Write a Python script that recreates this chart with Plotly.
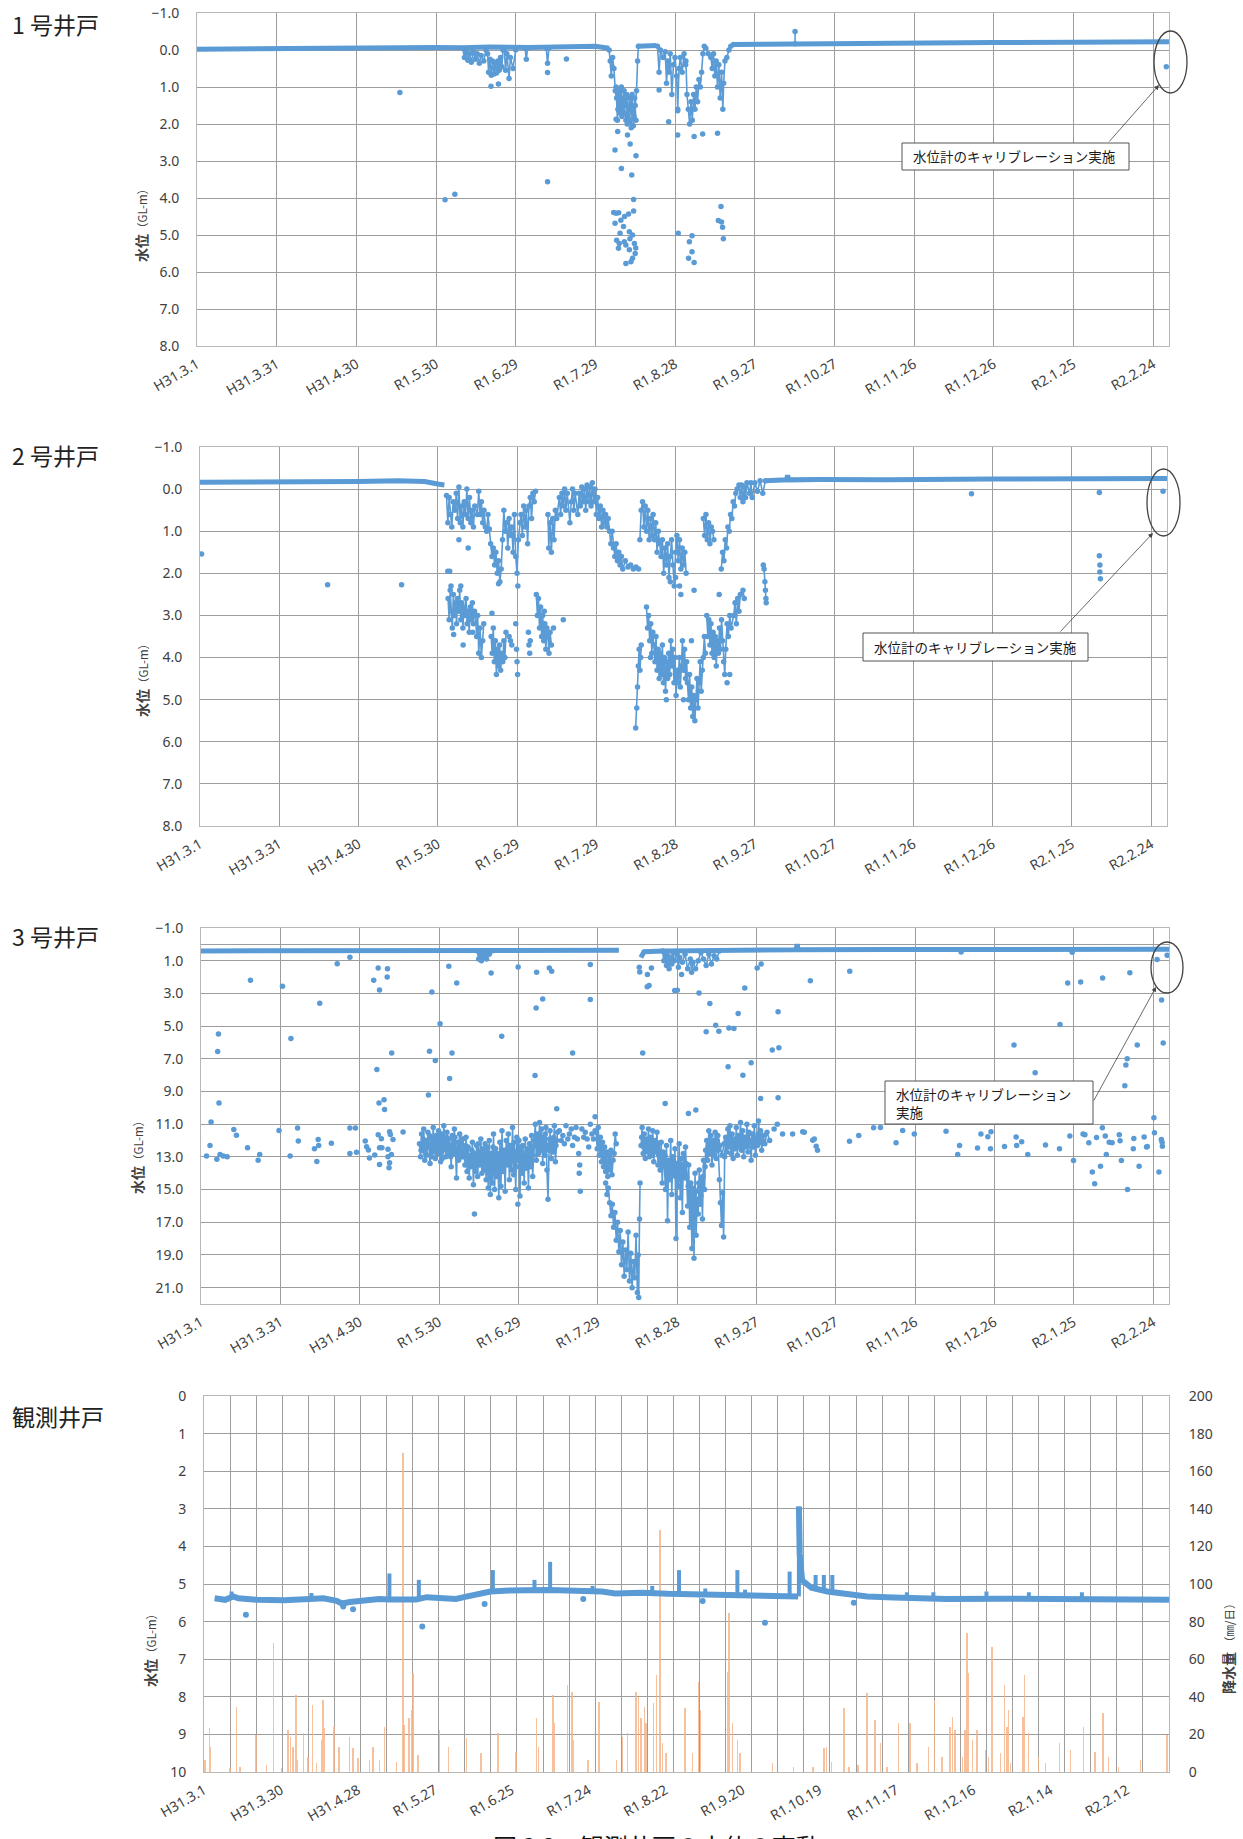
import pandas as pd
import plotly.graph_objects as go

W, H = 1243, 1839
START = pd.Timestamp("2019-03-01")

# ---------------- tick labels ----------------
ticks_wells = ["H31.3.1", "H31.3.31", "H31.4.30", "R1.5.30", "R1.6.29", "R1.7.29", "R1.8.28",
               "R1.9.27", "R1.10.27", "R1.11.26", "R1.12.26", "R2.1.25", "R2.2.24"]
ticks_obs = ["H31.3.1", "H31.3.30", "H31.4.28", "R1.5.27", "R1.6.25", "R1.7.24", "R1.8.22",
             "R1.9.20", "R1.10.19", "R1.11.17", "R1.12.16", "R2.1.14", "R2.2.12"]
panel_titles = ["1 号井戸", "2 号井戸", "3 号井戸", "観測井戸"]
callout_text = "水位計のキャリブレーション実施"
caption = "図 3.3　観測井戸の水位の変動"

# ---------------- data: (day since 2019-03-01, water level GL-m) ----------------
# 1号井戸
w1_base_a = [(0, -0.02), (20, -0.03), (40, -0.05), (55, -0.08), (62, -0.05), (75, -0.06), (90, -0.07),
             (100, -0.06), (110, -0.08), (125, -0.07), (140, -0.1), (150, -0.1), (155.2, -0.05)]
w1_base_b = [(166, -0.1), (173, -0.12)]
w1_base_c = [(202, -0.15), (215, -0.16), (225, -0.17), (240, -0.18), (270, -0.19), (300, -0.2),
             (330, -0.21), (350, -0.22), (366, -0.22)]
w1_dip_a = [(100, -0.05), (100.7, 0.2), (101.3, 0.05), (102, 0.28), (102.6, 0.1), (103.3, 0.33), (104, 0.05),
            (104.8, 0.25), (105.5, 0.1), (106.3, 0.36), (107, 0.15), (108, 0.3), (108.8, 0.0)]
w1_dip_b = [(109.4, 0.1), (109.8, 0.6), (110.3, 0.25), (110.8, 0.68), (111.3, 0.3), (111.8, 0.65), (112.3, 0.35),
            (112.8, 0.62), (113.3, 0.3), (113.8, 0.55), (114.3, 0.2), (114.8, 0.45), (115.2, 0.0)]
w1_dip_c = [(115.7, 0.0), (116.2, 0.55), (116.7, 0.1), (117.5, 0.77), (118, 0.2), (119, 0.5), (120, 0.0)]
w1_dip_d = [(123.5, -0.05), (124, 0.25), (124.5, -0.05)]
w1_dip_e = [(131.5, -0.05), (132, 0.36), (132.5, -0.05)]
w1_aug_a = [(155.2, 0.0), (155.6, 0.3), (156, 0.7), (156.5, 0.2), (157, 0.5), (157.5, 1.1), (158, 1.3), (158.5, 1.6),
            (159, 1.2), (159.5, 1.5), (160, 1.8), (160.5, 1.4), (161, 1.7), (161.5, 1.9), (162, 2.0), (162.5, 1.6),
            (163, 1.9), (163.5, 2.1), (164, 1.7), (164.5, 1.8), (165, 1.5), (165.5, 1.1), (165.9, 0.3), (166.2, -0.1)]
w1_aug_b = [(157.8, 1.0), (158.3, 1.9), (158.8, 1.1), (159.3, 1.7), (159.8, 1.0), (160.3, 1.6), (160.8, 1.1),
            (161.3, 1.5), (161.8, 1.2), (162.3, 1.8), (162.8, 1.3), (163.3, 1.6), (163.8, 1.2), (164.3, 2.05),
            (164.8, 1.3), (165.3, 1.9)]
w1_sep_a = [(173.4, -0.1), (174, 0.6), (174.5, 0.0), (175.5, 0.2), (176.3, 0.05), (176.8, 0.9), (177.2, 0.3),
            (177.7, 0.6), (178.2, 0.1), (178.8, 1.2), (179.4, 0.4), (180, 0.2), (180.6, 0.7), (181, 1.6),
            (181.5, 0.5), (182, 0.2), (182.7, 0.6), (183.4, 0.1), (184, 0.4)]
w1_sep_b = [(184.1, 0.3), (184.5, 1.2), (185, 1.6), (185.5, 2.0), (186, 1.4), (186.5, 1.9), (187, 1.2), (187.5, 1.6),
            (188, 1.0), (188.5, 1.4), (189, 0.8), (189.5, 1.0), (190, 0.6), (190.5, 0.1), (191, -0.1)]
w1_sep_c = [(191.6, -0.05), (192.5, 0.1), (193.5, 0.2), (194, 0.5), (194.5, 0.1), (195, 0.7), (195.5, 0.3),
            (196, 1.0), (196.5, 0.4), (197, 1.3), (197.5, 0.6), (198, 1.6), (198.3, 0.9), (198.8, 0.3),
            (199.5, 0.2), (200.3, 0.0), (201, -0.1), (202, -0.15)]
w1_spike = [(225.2, -0.17), (225.2, -0.5)]
w1_points = [(76.4, 1.15), (93.4, 4.05), (97.1, 3.9), (110.7, 0.98), (113.5, 0.92), (132, 0.61), (132, 3.56),
             (139.1, 0.24), (157.8, 1.87), (158.4, 2.2), (157.4, 2.7), (159.8, 3.2), (162.1, 2.3), (163.1, 2.54),
             (163.7, 3.38), (165.3, 2.86), (164.4, 4.04), (164.4, 4.35), (156.9, 4.39), (158.8, 4.4), (159.6, 4.6),
             (157.4, 4.68), (160.6, 4.77), (162.8, 4.91), (164, 5.0), (158, 5.14), (159, 5.23), (161.5, 5.27),
             (164.7, 5.23), (158.7, 5.36), (162.8, 5.4), (165, 5.5), (164, 5.63), (161.5, 5.77), (163.4, 5.72),
             (162.5, 4.43), (160.9, 5.18), (157.8, 4.41), (159.3, 4.95), (163.0, 5.1), (161, 4.5), (165.2, 5.35),
             (174, 1.08), (177.6, 1.94), (181, 1.64), (181, 2.3), (181.2, 4.95), (185.4, 5.18), (186.4, 5.02),
             (185.1, 5.63), (187.2, 5.74), (186.4, 5.45), (187.2, 2.34), (190.4, 2.27), (196, 2.25), (197.3, 4.23),
             (196.3, 4.61), (197.5, 4.65), (197.9, 4.79), (198.2, 5.1), (365, 0.45)]

# 2号井戸
w2_base_a = [(0, -0.16), (30, -0.16), (60, -0.18), (75, -0.2), (85, -0.18), (90, -0.12), (92.5, -0.1)]
w2_base_b = [(214, -0.2), (222, -0.22), (222.4, -0.33), (222.8, -0.22), (234.5, -0.23), (260, -0.22),
             (300, -0.24), (340, -0.25), (366, -0.25)]
w2_up_a = [(93.3, 0.15), (93.8, 0.8), (94.3, 0.2), (94.8, 0.6), (95.3, 0.9), (95.8, 0.3), (96.5, 0.5), (97, 0.1),
           (97.5, 0.7), (98, -0.05), (98.5, 0.8), (99, 0.4), (99.5, 0.9), (100, 0.3), (100.5, 0.6), (101, 0.0),
           (101.5, 0.7), (102, 0.2), (102.5, 0.8), (103, 0.5), (103.5, 0.9), (104, 0.4), (105, 0.6), (105.5, 0.05),
           (106, 0.6), (106.5, 0.3), (107, 0.8), (107.5, 0.5), (108, 0.9), (108.5, 1.0), (109, 0.6), (109.5, 0.95),
           (110, 1.3), (110.5, 1.6), (111, 1.4), (111.5, 1.8), (112, 1.5), (112.5, 2.0), (113, 1.7), (113.5, 2.2),
           (114, 1.9), (114.5, 1.2), (115, 0.5), (115.5, 1.0), (116, 0.8), (116.5, 1.4), (117, 0.7), (117.5, 1.1),
           (118, 0.9), (118.5, 1.5), (119, 0.6), (119.5, 1.6), (120, 2.0), (120.5, 1.2), (121, 0.8), (121.5, 0.6),
           (122, 1.1), (122.5, 0.4), (123, 0.9), (123.5, 0.5), (124, 1.3), (124.5, 0.4), (125, 0.2), (125.5, 0.7),
           (126, 0.1), (126.5, 0.3), (127, 0.05)]
w2_up_b = [(131.7, 0.6), (132, 1.4), (132.5, 0.8), (133, 1.5), (133.5, 0.7), (134, 1.2), (134.5, 0.5), (135, 0.7),
           (136, 0.2), (136.5, 0.6), (137, 0.1), (137.5, 0.4), (138, 0.0), (138.5, 0.5), (139, 0.1), (140, 0.8),
           (140.5, 0.3), (141, 0.0), (141.5, 0.5), (142, 0.1), (143, 0.6), (143.5, 0.1), (144, 0.4), (144.5, -0.05),
           (145, 0.3), (145.5, 0.0), (146, 0.5), (146.5, -0.1), (147, 0.3), (147.5, -0.05), (148, 0.4),
           (148.5, -0.15), (149, 0.3), (149.5, 0.0), (150, 0.6), (150.5, 0.2), (151, 0.7), (151.5, 0.4), (152, 0.9),
           (152.5, 0.5), (153, 0.8), (153.5, 0.6), (154, 0.9), (154.5, 0.7), (155, 1.0), (155.5, 1.3), (156, 1.0),
           (156.5, 1.4), (157, 1.6), (157.5, 1.3), (158, 1.7), (158.5, 1.5), (159, 1.8), (159.5, 1.6), (160, 1.9),
           (161, 1.7), (162, 1.85), (163, 1.8), (164, 1.9), (165, 1.85), (166, 1.9)]
w2_up_c = [(166.5, 1.2), (167, 0.5), (167.5, 0.3), (168, 0.9), (168.5, 0.4), (169, 1.0), (169.5, 0.5), (170, 1.2),
           (170.5, 0.7), (171, 1.1), (171.5, 0.6), (172, 1.2), (172.5, 0.8), (173, 1.5), (173.5, 1.0), (174, 1.3),
           (174.5, 1.6), (175, 1.2), (175.5, 2.0), (176, 1.4), (176.5, 1.8), (177, 1.3), (177.5, 2.1), (178, 1.6),
           (178.5, 1.2), (179, 1.8), (179.5, 2.3), (180, 1.5), (180.5, 1.1), (181, 1.7), (181.5, 1.2), (182, 1.9),
           (182.5, 1.4), (183, 1.8), (183.5, 1.5), (184, 2.0)]
w2_up_d = [(190.5, 0.7), (191, 1.1), (191.5, 0.6), (192, 1.2), (192.5, 0.8), (193, 1.3), (193.5, 0.9), (194, 1.0),
           (194.5, 1.2)]
w2_up_e = [(197.3, 1.9), (197.8, 1.5), (198.3, 1.7), (198.8, 1.2), (199.3, 1.4), (199.8, 0.9), (200.3, 1.0),
           (200.8, 0.6), (201.3, 0.7), (201.8, 0.3), (202.3, 0.4), (202.8, 0.1), (203.3, 0.0), (204, -0.1),
           (204.5, 0.2), (205, -0.1), (205.5, 0.3), (206, -0.05), (206.5, 0.2), (207, -0.15), (208, 0.1),
           (208.5, -0.15), (209, 0.2), (210, -0.15), (211, 0.05), (212, -0.2), (213, 0.1), (214, -0.2)]
w2_low_a = [(93.9, 2.6), (94.3, 3.1), (94.7, 2.4), (95.1, 2.9), (95.5, 3.3), (95.9, 2.5), (96.3, 3.0), (96.7, 2.7),
            (97.1, 3.2), (97.5, 2.6), (97.9, 2.9), (98.3, 2.4), (98.7, 3.1), (99.1, 2.7), (99.5, 3.3), (99.9, 2.8),
            (100.3, 3.0), (100.7, 2.6), (101.1, 3.2), (101.5, 2.9), (101.9, 3.4), (102.3, 2.8), (102.7, 3.1),
            (103.1, 2.7), (103.5, 3.2), (103.9, 2.9), (104.3, 3.0), (104.7, 3.5), (105.1, 3.0), (105.5, 3.9),
            (106, 3.3), (106.5, 4.0), (107, 3.6), (107.4, 3.2)]
w2_low_b = [(110.2, 3.5), (110.6, 3.9), (111, 3.3), (111.4, 4.1), (111.8, 3.6), (112.2, 4.4), (112.6, 3.8),
            (113, 4.2), (113.4, 3.7), (113.8, 4.3), (114.2, 3.9), (114.6, 4.1), (115, 3.6), (115.4, 4.0),
            (115.8, 3.4)]
w2_low_c = [(127.3, 2.5), (127.7, 3.0), (128.1, 2.6), (128.5, 3.3), (128.9, 2.8), (129.3, 3.5), (129.7, 3.0),
            (130.1, 3.6), (130.5, 3.2), (130.9, 3.8), (131.3, 3.3), (131.7, 3.5), (132.1, 3.9), (132.5, 3.4),
            (133, 3.7)]
w2_low_d = [(164.9, 5.67), (165.3, 5.2), (165.6, 4.7), (165.9, 4.2), (166.2, 3.8), (166.5, 4.3), (166.8, 4.0),
            (167, 3.7)]
w2_low_e = [(169, 2.8), (169.4, 3.3), (169.8, 3.0), (170.2, 3.6), (170.6, 3.2), (171, 3.9), (171.4, 3.4),
            (171.8, 3.7), (172.2, 4.1), (172.6, 3.5), (173, 4.3), (173.4, 3.8), (173.8, 4.5), (174.2, 3.9),
            (174.6, 4.4), (175, 3.7), (175.4, 4.6), (175.8, 4.0), (176.2, 4.8), (176.6, 4.1), (177, 4.5),
            (177.4, 3.9), (177.8, 4.4), (178.2, 3.6), (178.6, 4.2), (179, 3.8), (179.4, 4.6), (179.8, 4.0),
            (180.2, 4.9), (180.6, 4.3), (181, 4.6), (181.4, 4.0), (181.8, 4.7), (182.2, 4.2), (182.6, 3.6),
            (183, 4.3), (183.4, 3.8), (183.8, 4.5), (184.2, 4.1), (184.5, 4.6), (184.9, 5.0), (185.3, 4.4),
            (185.7, 5.2), (186.1, 4.7), (186.5, 5.4), (186.9, 4.9), (187.3, 5.5), (187.7, 5.0), (188.1, 4.5),
            (188.5, 5.2), (188.9, 4.6), (189.3, 4.1), (189.7, 4.8), (190.1, 4.3), (190.5, 4.0), (190.9, 3.5),
            (191.3, 3.9)]
w2_low_f = [(191.8, 3.0), (192.2, 3.5), (192.6, 3.1), (193, 3.7), (193.4, 3.2), (193.8, 3.9), (194.2, 3.4),
            (194.6, 4.0), (195, 3.5), (195.4, 4.2), (195.8, 3.6), (196.2, 3.9), (196.6, 3.3), (197, 3.8),
            (197.4, 3.1), (197.8, 3.6), (198.2, 4.1), (198.6, 4.4), (199, 3.8), (199.5, 3.2), (200, 3.5),
            (200.5, 3.0), (201, 3.3), (202, 3.0), (202.5, 2.7), (203, 3.2), (203.5, 2.6), (204, 2.9), (204.5, 2.5),
            (205.5, 2.4), (206, 2.6)]
w2_low_g = [(213.2, 1.8), (213.5, 1.9), (213.8, 2.2), (214, 2.4), (214.2, 2.6), (214.3, 2.7)]
w2_points = [(0.6, 1.54), (48.3, 2.27), (76.3, 2.27), (292, 0.11), (340.4, 0.08), (340.4, 1.58), (340.6, 1.8),
             (340.6, 1.97), (340.8, 2.13), (364.5, 0.05), (93.8, 1.95), (94.5, 1.95), (95, 2.3), (98.7, 2.3),
             (99.6, 3.7), (103.2, 3.4), (110.5, 2.95), (96, 3.45), (130.3, 2.9), (137.5, 3.1), (133.8, 3.3),
             (180, 2.1), (178, 2.2), (181.5, 2.3), (182, 2.5), (187, 2.4), (196.5, 2.5), (186, 3.6), (183, 5.0),
             (176.5, 5.0), (170.5, 4.0), (200.5, 4.4), (199.5, 4.6), (117, 3.5), (117.5, 3.6), (118, 3.7),
             (119.5, 3.2), (119.8, 3.8), (120, 4.1), (120.2, 4.4), (124.3, 3.4), (124.5, 3.7), (124.8, 3.9),
             (125, 3.6), (98, 1.2), (101.5, 1.4), (113, 2.25), (120.3, 2.3)]

# 3号井戸
w3_base_a = [(0, 0.4), (60, 0.4), (104, 0.38), (130, 0.37), (158, 0.36)]
w3_base_b = [(166.3, 0.8), (167.5, 0.45), (175, 0.4), (200, 0.35), (225, 0.33), (225.4, 0.0), (225.8, 0.33),
             (260, 0.32), (330, 0.3), (366, 0.3)]
w3_dip_a = [(104.5, 0.4), (105, 0.9), (105.5, 0.6), (106, 1.0), (106.5, 0.5), (107, 0.8), (107.5, 0.4), (108, 0.9),
            (108.5, 0.5), (109, 0.6), (110, 0.4)]
w3_dip_b = [(174.5, 0.4), (175, 1.0), (175.5, 0.5), (176, 1.3), (176.5, 0.7), (177, 1.5), (177.5, 0.8), (178, 1.2),
            (178.5, 0.5), (179, 1.0), (180, 0.6), (180.5, 1.4), (181, 0.8), (182, 1.1), (183, 0.6), (184, 1.5),
            (185, 0.9), (185.5, 1.7), (186, 1.1), (187, 1.5), (188, 1.0), (189, 0.5), (190, 0.9), (191, 1.3),
            (192, 0.6), (193, 1.2), (194, 0.7), (195, 0.9), (196, 0.4)]
w3_cloud_a = [(82.6, 12.2), (83, 13.0), (83.4, 11.6), (83.8, 12.6), (84.2, 11.3), (84.6, 13.2), (85, 12.0),
              (85.4, 12.9), (85.8, 11.5), (86.2, 12.4), (86.6, 13.4), (87, 11.8), (87.4, 12.7), (87.8, 11.2),
              (88.2, 12.5), (88.6, 13.1), (89, 11.7), (89.4, 12.8), (89.8, 11.4), (90.2, 12.3), (90.6, 13.3),
              (91, 11.6), (91.4, 12.6), (91.8, 11.1), (92.2, 12.2), (92.6, 13.0), (93, 11.5), (93.4, 12.9),
              (93.8, 11.9), (94.2, 12.4), (94.6, 13.6), (95, 11.7), (95.4, 12.8), (95.8, 11.3), (96.2, 12.5),
              (96.6, 14.3), (97, 12.1), (97.4, 13.2), (97.8, 11.6), (98.2, 12.7), (98.6, 13.0), (99, 11.9),
              (99.4, 12.6), (99.8, 13.5), (100.2, 11.8), (100.6, 13.9), (101, 12.4), (101.4, 14.3), (101.8, 12.9),
              (102.2, 13.6), (102.6, 12.1), (103, 14.7), (103.4, 12.8), (103.8, 13.9), (104.2, 12.3), (104.6, 14.2),
              (105, 12.7), (105.4, 13.5), (105.8, 11.9), (106.2, 14.0), (106.6, 12.5), (107, 13.8), (107.4, 12.2),
              (107.8, 14.4), (108.2, 12.4), (108.6, 14.9), (109, 12.0), (109.4, 15.3), (109.8, 12.8), (110.2, 14.6),
              (110.6, 11.6), (111, 15.0), (111.4, 12.5), (111.8, 14.2), (112.2, 13.0), (112.6, 15.5), (113, 12.1),
              (113.4, 14.8), (113.8, 11.4), (114.2, 13.9), (114.6, 12.6), (115, 15.1), (115.4, 12.0), (115.8, 13.5),
              (116.2, 11.6), (116.6, 14.4), (117, 12.3), (117.4, 13.8), (117.8, 11.2), (118.2, 14.1), (118.6, 12.7),
              (119, 15.0), (119.4, 11.8), (119.8, 13.2), (120.2, 12.0), (120.6, 15.4), (121, 12.4), (121.4, 14.0),
              (121.8, 12.9), (122.2, 14.6), (122.6, 11.9), (123, 13.7), (123.4, 12.5), (123.8, 14.9), (124.2, 12.2),
              (124.6, 13.6), (125, 11.7), (125.4, 14.2), (126, 12.0), (126.4, 11.0), (126.8, 13.2), (127.2, 11.6),
              (127.6, 12.8), (128, 10.9), (128.4, 12.4), (128.8, 11.3), (129.2, 13.4), (129.6, 11.8), (130, 12.9),
              (130.4, 11.2), (130.8, 13.8), (131.2, 15.6), (131.6, 12.6), (132, 11.4), (132.4, 13.1), (132.8, 11.9),
              (133.2, 12.7), (133.6, 11.1), (134, 13.3), (134.4, 12.0), (134.8, 11.5)]
w3_cloud_a2 = [(83.2, 12.6), (84, 11.9), (84.8, 12.8), (85.6, 12.2), (86.4, 11.7), (87.2, 13.0), (88, 12.1),
               (88.8, 11.9), (89.6, 12.7), (90.4, 11.8), (91.2, 13.1), (92, 12.4), (92.8, 11.8), (93.6, 12.3),
               (94.4, 13.0), (95.2, 12.2), (96, 11.8), (96.8, 12.9), (97.6, 12.4), (98.4, 11.9), (99.2, 13.0),
               (100, 12.3), (100.8, 12.9), (101.6, 13.4), (102.4, 12.6), (103.2, 13.3), (104, 13.0), (104.8, 12.2),
               (105.6, 13.1), (106.4, 12.9), (107.2, 13.4), (108, 12.7), (108.8, 13.6), (109.6, 13.0), (110.4, 12.4),
               (111.2, 13.7), (112, 12.8), (112.8, 13.9), (113.6, 12.9), (114.4, 13.3), (115.2, 12.6), (116, 13.0),
               (116.8, 12.4), (117.6, 13.2), (118.4, 12.1), (119.2, 13.6), (120, 12.7), (120.8, 13.1), (121.6, 12.3),
               (122.4, 13.5), (123.2, 12.8), (124, 13.2), (124.8, 12.5), (125.6, 12.9), (126.2, 12.3), (127, 12.0),
               (127.8, 11.7), (128.6, 12.6), (129.4, 12.1), (130.2, 11.6), (131, 12.4), (131.8, 11.9), (132.6, 12.5),
               (133.4, 11.8), (134.2, 12.3)]
w3_cloud_b = [(149.4, 11.5), (149.8, 12.5), (150.2, 11.2), (150.6, 12.9), (151, 11.8), (151.4, 13.3), (151.8, 12.1),
              (152.2, 13.6), (152.6, 12.4), (153, 13.9), (153.4, 12.7), (153.8, 14.2), (154.2, 12.9), (154.6, 13.8),
              (155, 12.6), (155.4, 14.1), (155.8, 13.2), (156.2, 12.8), (156.6, 11.6), (157, 12.2)]
w3_deep = [(153, 14.6), (153.5, 15.3), (154, 14.9), (154.5, 15.8), (155, 16.6), (155.5, 15.9), (156, 17.3),
           (156.5, 16.4), (157, 18.1), (157.5, 17.0), (158, 18.8), (158.5, 17.5), (159, 19.6), (159.5, 18.2),
           (160, 20.3), (160.5, 18.7), (161, 19.9), (161.5, 17.6), (162, 20.6), (162.5, 18.9), (163, 21.0),
           (163.5, 19.4), (164, 20.4), (164.5, 17.8), (165, 21.3), (165.3, 19.0), (165.5, 21.6), (165.8, 16.8),
           (166, 14.6)]
w3_cloud_c = [(166.4, 12.3), (166.8, 11.2), (167.2, 12.8), (167.6, 11.6), (168, 13.1), (168.4, 11.9), (168.8, 12.5),
              (169.2, 11.3), (169.6, 13.0), (170, 11.8), (170.4, 12.6), (170.8, 11.4), (171.2, 13.3), (171.6, 12.0),
              (172, 12.7), (172.4, 11.5), (172.8, 13.5), (173.2, 12.2), (173.6, 13.8), (174, 12.1), (174.4, 14.6),
              (174.8, 12.7), (175.2, 13.5), (175.6, 15.0), (176, 12.3), (176.4, 16.9), (176.8, 13.2), (177.2, 14.4),
              (177.6, 12.0), (178, 15.3), (178.4, 13.0), (178.8, 14.1), (179.2, 12.5), (179.6, 18.0), (180, 13.4),
              (180.4, 14.8), (180.8, 12.2), (181.2, 15.5), (181.6, 13.1), (182, 16.4), (182.4, 12.8), (182.8, 14.3),
              (183.2, 12.4), (183.6, 14.2), (184, 16.0), (184.4, 13.5), (184.8, 17.3), (185.2, 14.6), (185.6, 18.6),
              (186, 15.2), (186.4, 19.2), (186.8, 14.0), (187.2, 17.8), (187.6, 15.6), (188, 16.5), (188.4, 13.8),
              (188.8, 15.9), (189.2, 14.3), (189.6, 16.8), (190, 13.2), (190.4, 15.0), (190.8, 12.6), (191.2, 12.0),
              (191.6, 13.2), (192, 11.4), (192.4, 12.8), (192.8, 11.7), (193.2, 13.5), (193.6, 12.2), (194, 12.9),
              (194.4, 11.5), (194.8, 13.1), (195.2, 12.0), (195.6, 12.6), (196, 14.4), (196.4, 15.8), (196.8, 17.2),
              (197.2, 15.2), (197.6, 17.9), (198, 13.0), (198.4, 11.8), (198.8, 12.7), (199.2, 11.3), (199.6, 12.4),
              (200, 11.1), (200.4, 12.8), (200.8, 11.6), (201.2, 13.1), (201.6, 11.9), (202, 12.5), (202.4, 11.2),
              (202.8, 12.9), (203.2, 11.7), (203.6, 12.2), (204, 10.9), (204.4, 12.6), (204.8, 11.4), (205.2, 13.0),
              (205.6, 11.8), (206, 12.3), (206.4, 11.0), (206.8, 12.7), (207.2, 11.5), (207.6, 12.1), (208, 13.2),
              (208.4, 11.6), (208.8, 12.4), (209.2, 11.1), (209.6, 12.9), (210, 11.9), (210.4, 12.3), (210.8, 10.8),
              (211.2, 12.0), (211.6, 11.4), (212, 12.6), (212.6, 11.7), (213.2, 12.2), (214, 11.5), (215, 12.0)]
w3_cloud_c2 = [(166.6, 11.8), (167.4, 12.4), (168.2, 12.0), (169, 12.7), (169.8, 12.2), (170.6, 12.9), (171.4, 12.4),
               (172.2, 12.1), (173, 12.9), (173.8, 13.0), (174.6, 13.6), (175.4, 12.9), (176.2, 14.0), (177, 13.4),
               (177.8, 13.8), (178.6, 13.2), (179.4, 14.2), (180.2, 13.6), (181, 14.0), (181.8, 13.5), (182.6, 13.9),
               (183.4, 13.4), (184.2, 14.8), (185, 15.8), (185.8, 14.9), (186.6, 16.3), (187.4, 15.1), (188.2, 14.6),
               (189, 15.4), (189.8, 14.2), (190.6, 13.6), (191.4, 12.6), (192.2, 12.1), (193, 12.6), (193.8, 12.0),
               (194.6, 12.4), (195.4, 11.7), (196.2, 12.3), (197, 12.9), (197.8, 12.2), (198.6, 12.0), (199.4, 12.3),
               (200.2, 11.8), (201, 12.3), (201.8, 12.0), (202.6, 11.9), (203.4, 12.4), (204.2, 11.7), (205, 12.1),
               (205.8, 12.4), (206.6, 11.8), (207.4, 12.0), (208.2, 12.4), (209, 11.8), (209.8, 12.2), (210.6, 11.6),
               (211.4, 12.1)]
w3_points = [(2.1, 12.95), (3.4, 12.3), (3.8, 10.87), (6.0, 13.15), (6.6, 5.48), (6.3, 6.56), (6.8, 9.71),
             (7.2, 12.85), (8.4, 12.95), (9.9, 13.0), (12.4, 11.32), (13.4, 11.67), (17.6, 12.44), (18.7, 2.2),
             (21.6, 13.2), (22.2, 12.85), (29.5, 11.38), (30.8, 2.56), (33.7, 12.95), (34.0, 5.76), (36.5, 11.24),
             (36.8, 12.03), (42.9, 12.5), (44.3, 11.93), (44.5, 12.3), (43.8, 13.28), (44.9, 3.6), (49.3, 12.16),
             (51.5, 1.18), (56.3, 0.79), (56.3, 11.24), (58.4, 11.24), (56.3, 12.79), (58.8, 12.71), (62.1, 12.03),
             (63.3, 12.58), (63.7, 13.07), (65.7, 12.89), (65.3, 2.2), (67.0, 1.44), (70.5, 1.5), (70.4, 1.99),
             (67.5, 2.8), (72.1, 6.64), (66.5, 7.66), (67.3, 9.71), (69.2, 9.51), (69.4, 10.1), (68.2, 11.89),
             (67.5, 12.44), (68.4, 12.44), (70.7, 12.54), (71.6, 11.63), (71.3, 11.46), (72.6, 11.93), (70.7, 13.0),
             (71.3, 13.36), (71.1, 13.66), (67.5, 13.46), (72.0, 12.85), (76.4, 11.48), (67.0, 11.65), (62.6, 12.38),
             (87.3, 2.91), (90.4, 4.85), (86.4, 6.54), (88.6, 7.11), (86.0, 9.22), (93.7, 1.34), (96.7, 2.36),
             (94.9, 6.64), (94.0, 8.2), (109.7, 1.75), (113.7, 5.62), (119.9, 1.38), (126.9, 1.71), (131.7, 1.44),
             (132.6, 1.65), (126.7, 3.89), (129.2, 3.34), (126.3, 8.02), (134.5, 10.06), (140.5, 6.64),
             (147.2, 1.24), (147.2, 3.38), (149.0, 10.55), (165.7, 1.4), (165.9, 1.69), (168.8, 1.85),
             (170.3, 1.44), (169.4, 2.52), (168.7, 2.6), (167.0, 6.64), (175.5, 9.73), (179.1, 2.83), (180.1, 2.81),
             (181.7, 1.85), (184.3, 10.34), (187.1, 10.14), (188.3, 2.97), (192.4, 3.62), (191.0, 5.35),
             (194.6, 4.95), (195.8, 5.31), (199.6, 5.11), (201.5, 5.15), (199.3, 7.49), (204.9, 8.0), (203.1, 4.23),
             (205.6, 2.67), (208.0, 7.25), (210.3, 1.44), (211.8, 1.2), (216.0, 6.47), (218.5, 6.33), (218.2, 4.13),
             (211.6, 9.43), (218.2, 9.39), (230.4, 2.22), (245.3, 1.65), (327.7, 2.36), (332.6, 2.3), (340.9, 2.06),
             (351.2, 1.74), (361.5, 0.93), (365.3, 0.66), (363.2, 3.41), (324.8, 4.91), (354, 6.15), (363.8, 6.03),
             (307.4, 6.15), (315.4, 7.86), (350.2, 7.0), (349.7, 7.38), (349.3, 8.65), (360.3, 10.6), (329.4, 0.49),
             (287.4, 0.47), (135.5, 11.4), (136.2, 12.0), (136.8, 11.7), (137.4, 12.2), (138, 11.1), (138.7, 11.9),
             (139.3, 11.6), (140, 11.3), (140.5, 12.3), (141.2, 11.8), (141.8, 11.2), (142.3, 11.9), (143, 14.0),
             (143.2, 13.5), (143.4, 15.1), (142.8, 12.8), (144, 11.3), (144.7, 11.8), (145.3, 11.5), (146, 11.9),
             (146.6, 12.4), (147.2, 11.0), (147.8, 11.6), (148.4, 11.9), (149, 11.4), (103.4, 16.5), (119.8, 15.9),
             (219.9, 11.6), (223.7, 11.6), (228.1, 11.5), (231.9, 11.9), (233.1, 12.6), (217.9, 11.0),
             (216.7, 11.3), (227.5, 11.47), (231.3, 11.98), (232.6, 12.35), (245.2, 12.04), (248.7, 11.69),
             (254.3, 11.22), (262.8, 12.14), (265.3, 11.39), (286.8, 12.31), (293.6, 12.45), (297.5, 11.77),
             (298.7, 11.47), (308.4, 12.31), (310.3, 12.08), (328.5, 11.73), (334.2, 11.65), (338.6, 11.82),
             (340.8, 11.22), (341.9, 11.73), (343.4, 12.1), (347.2, 11.65), (347.5, 12.02), (352.7, 11.88),
             (356.6, 11.79), (357.5, 12.39), (360.5, 11.53), (363.1, 11.94), (363.4, 12.1), (363.5, 12.35),
             (256.9, 11.2), (269.7, 11.6), (281.7, 11.43), (286.1, 12.86), (294.9, 11.6), (298.5, 12.5),
             (303.8, 12.36), (308.2, 11.78), (312.6, 12.86), (319.3, 12.28), (324.6, 12.5), (329.9, 13.22),
             (333.5, 11.6), (335.7, 12.14), (337, 13.93), (337.9, 14.65), (340.1, 13.57), (342.3, 12.86),
             (344.5, 12.14), (348, 13.22), (350.3, 15.0), (352.5, 12.5), (354.7, 13.57), (357.8, 12.36),
             (362.2, 13.93)]

# 観測井戸 water level
w4_base_a = [(4, 5.38), (8, 5.42), (11, 5.33), (13, 5.38), (20, 5.42), (30, 5.43), (40, 5.4), (45, 5.38),
             (50, 5.45), (52, 5.52), (55, 5.48), (60, 5.43), (66, 5.4), (70, 5.41), (80, 5.41), (84, 5.35),
             (95, 5.4), (98, 5.35), (103, 5.28), (108, 5.2), (115, 5.17), (125, 5.15), (130, 5.16), (140, 5.18),
             (150, 5.2), (155, 5.25), (165, 5.23), (175, 5.26), (180, 5.27), (190, 5.3), (200, 5.3), (210, 5.31),
             (220, 5.32), (224, 5.33)]
w4_base_b = [(224.3, 2.94), (224.6, 4.2), (225.5, 4.9), (227, 5.0), (229, 5.1), (235, 5.2), (240, 5.24),
             (245, 5.28), (250, 5.33), (260, 5.36), (280, 5.4), (300, 5.39), (320, 5.4), (340, 5.42), (364, 5.42)]
w4_spikes = [(10.4, 5.33, 5.2), (40.5, 5.4, 5.24), (69.9, 5.4, 4.72), (81.0, 5.4, 4.89), (108.9, 5.2, 4.63),
             (124.6, 5.15, 4.89), (130.5, 5.16, 4.41), (146.5, 5.18, 5.05), (169, 5.23, 5.05), (179.1, 5.27, 4.63),
             (189, 5.28, 5.12), (201.1, 5.3, 4.63), (204, 5.3, 5.15), (220.8, 5.32, 4.67), (224.3, 5.33, 2.94),
             (230.6, 5.1, 4.76), (233.7, 5.15, 4.76), (236.9, 5.2, 4.76), (265, 5.36, 5.22), (275, 5.38, 5.22),
             (295, 5.39, 5.2), (311, 5.4, 5.22), (331, 5.41, 5.22)]
w4_points = [(15.8, 5.82), (56.2, 5.67), (82.3, 6.13), (105.8, 5.53), (143, 5.4), (211.5, 6.03), (245, 5.5),
             (188, 5.45), (52.5, 5.6)]

# 降水量 (day, mm/day)
rain = [(0.4, 6.4), (2.1, 23.2), (2.4, 13.5), (9.8, 2), (12.3, 34.8), (13.5, 2.8), (19.6, 19.7), (23.6, 3.7),
        (26.1, 68.4), (29.2, 2), (31.7, 22.3), (32.7, 18.8), (33.6, 13.5), (34.6, 41), (35.2, 6.4), (37.6, 20.6),
        (39.2, 8.2), (40.9, 35.8), (42.4, 4.6), (44.3, 17), (44.9, 38.3), (45.5, 23.2), (49, 24.1), (50.9, 13.5),
        (54.9, 18.8), (56.2, 12.6), (58.1, 7.3), (62.4, 6.4), (63.7, 13.5), (66.2, 6.4), (68.1, 24.1), (72.5, 5.5),
        (75, 169.5), (75.4, 25), (77.3, 28.5), (78.5, 33), (78.8, 52.5), (80.7, 9), (88.8, 22.3), (92.2, 13.5),
        (98.9, 17.9), (104.5, 10), (110.8, 20.6), (117.7, 10.9), (125.4, 28.5), (126.2, 13.5), (131.5, 41),
        (132.1, 25.9), (137.1, 46.3), (138.8, 42.8), (139.4, 17), (144.7, 6.4), (149, 37.4), (155.6, 6.4),
        (157.8, 18.8), (159.7, 20.6), (162.9, 42.8), (163.9, 40.1), (164.7, 28.5), (166, 34.8), (166.6, 25.9),
        (169.4, 36.5), (170.6, 51.6), (172, 128.7), (172.9, 15.2), (174.1, 10), (181.4, 33.9), (184.2, 10),
        (186.4, 48.1), (187.1, 33), (197.4, 53.4), (198, 84.4), (199.3, 25.9), (201.2, 17), (202, 10),
        (214.3, 4.6), (222.2, 2.8), (229.6, 2.8), (233.8, 12.6), (234.6, 13.5), (236.6, 5.5), (241.3, 33.9),
        (243.2, 2.8), (246.6, 3.7), (250, 41.8), (252.9, 27.7), (255, 15.3), (257.5, 2.8), (261.9, 26),
        (266.1, 26), (268.8, 4.6), (273.2, 13.5), (275.5, 38.3), (278.2, 8.2), (281.3, 24.1), (282.2, 29.4),
        (283.2, 22.3), (286, 8.2), (287, 22.3), (287.6, 73.8), (288.2, 52.5), (289.8, 17), (291.4, 22.3),
        (294.6, 11.7), (295.8, 8.2), (297.1, 66.7), (300.2, 9.9), (301.9, 46.3), (302.7, 24.1), (303.4, 33),
        (304, 4.6), (308.7, 29.4), (309.4, 51.6), (310.9, 20.6), (314.7, 8.2), (317.2, 4.6), (322.5, 15.2),
        (326.6, 11.7), (331.6, 24.1), (336, 10.8), (338.9, 31.2), (341, 8.2), (344.8, 2.8), (353, 6.4),
        (363, 19.7)]

# ---------------- styling ----------------
BLUE = "#5B9BD5"
ORANGE = "rgba(244,177,131,0.8)"
GRID = "#9d9d9d"
FRAME = "#b8b8b8"
TICKC = "#404040"
TF = "Noto Sans, Noto Sans CJK JP, sans-serif"
JP = "Noto Sans CJK JP"


def day_str(d):
    return (START + pd.Timedelta(days=float(d))).strftime("%Y-%m-%d %H:%M:%S")


def era_to_date(s):
    era = s[0]
    y, m, d = s[1:].split(".")
    year = (1988 if era == "H" else 2018) + int(y)
    return pd.Timestamp(year=year, month=int(m), day=int(d)).strftime("%Y-%m-%d")


def xy(*segments):
    xs, ys = [], []
    for seg in segments:
        for d, v in seg:
            xs.append(day_str(d))
            ys.append(v)
        xs.append(None)
        ys.append(None)
    return xs, ys


def px(x):
    return x / W


def py(y):
    return 1 - y / H


fig = go.Figure()


def add_line(segs, xa, ya, width):
    x, y = xy(*segs)
    fig.add_trace(go.Scatter(x=x, y=y, mode="lines", line=dict(color=BLUE, width=width),
                             xaxis=xa, yaxis=ya, hoverinfo="skip", showlegend=False))


def add_trail(segs, xa, ya):
    x, y = xy(*segs)
    fig.add_trace(go.Scatter(x=x, y=y, mode="lines+markers", line=dict(color=BLUE, width=1.6),
                             marker=dict(color=BLUE, size=5.5), xaxis=xa, yaxis=ya,
                             hoverinfo="skip", showlegend=False))


def add_points(pts, xa, ya, size=5.5):
    x, y = xy(pts)
    fig.add_trace(go.Scatter(x=x, y=y, mode="markers", marker=dict(color=BLUE, size=size),
                             xaxis=xa, yaxis=ya, hoverinfo="skip", showlegend=False))


# panel 1
add_line([w1_base_a, w1_base_b, w1_base_c], "x", "y", 5)
add_trail([w1_dip_a, w1_dip_b, w1_dip_c, w1_dip_d, w1_dip_e, w1_aug_a, w1_aug_b, w1_sep_a, w1_sep_b,
           w1_sep_c, w1_spike], "x", "y")
add_points(w1_points, "x", "y")
# panel 2
add_line([w2_base_a, w2_base_b], "x2", "y2", 5)
add_trail([w2_up_a, w2_up_b, w2_up_c, w2_up_d, w2_up_e, w2_low_a, w2_low_b, w2_low_c, w2_low_d, w2_low_e,
           w2_low_f, w2_low_g], "x2", "y2")
add_points(w2_points, "x2", "y2")
# panel 3
add_line([w3_base_a, w3_base_b], "x3", "y3", 5)
add_trail([w3_dip_a, w3_dip_b, w3_cloud_a, w3_cloud_a2, w3_cloud_b, w3_deep, w3_cloud_c, w3_cloud_c2],
          "x3", "y3")
add_points(w3_points, "x3", "y3")
# panel 4: rainfall bars (base axis y4) then water level (overlay y5)
fig.add_trace(go.Bar(x=[day_str(d) for d, _ in rain], y=[v for _, v in rain], width=0.55 * 86400000,
                     marker=dict(color=ORANGE, line=dict(width=0)), xaxis="x4", yaxis="y4",
                     hoverinfo="skip", showlegend=False))
add_line([w4_base_a, w4_base_b], "x4", "y5", 6)
spike_segs = [[(d, lo), (d, hi)] for d, lo, hi in w4_spikes]
add_line(spike_segs, "x4", "y5", 4)
add_points(w4_points, "x4", "y5", 6)

# ---------------- axes ----------------
tickfont = dict(family=TF, size=14, color=TICKC)


def xcfg(x0, x1, anchor, labels, end_days, grid=True):
    return dict(domain=[px(x0), px(x1)], anchor=anchor, automargin=False,
                range=[day_str(0), day_str(end_days)], type="date",
                tickmode="array", tickvals=[era_to_date(t) for t in labels], ticktext=labels,
                tickangle=-30, tickfont=tickfont, ticks="outside", ticklen=4, tickcolor="rgba(0,0,0,0)",
                showgrid=grid, gridcolor=GRID, gridwidth=1, zeroline=False,
                showline=True, linecolor=FRAME, linewidth=1, mirror=True)


def ycfg(y0, y1, anchor, rng, dtick, tick0, fmt, zero=False):
    return dict(domain=[py(y1), py(y0)], anchor=anchor, automargin=False, range=rng, tickmode="linear",
                dtick=dtick, tick0=tick0, tickformat=fmt, tickfont=dict(family=TF, size=14, color=TICKC),
                ticks="outside", ticklen=14, tickcolor="rgba(0,0,0,0)",
                showgrid=True, gridcolor=GRID, gridwidth=1,
                zeroline=zero, zerolinecolor=GRID, zerolinewidth=1,
                showline=True, linecolor=FRAME, linewidth=1, mirror=True)


layout = dict(
    width=W, height=H, autosize=False, margin=dict(l=0, r=0, t=0, b=0, pad=0),
    paper_bgcolor="white", plot_bgcolor="white", showlegend=False, bargap=0,
    xaxis=xcfg(197, 1169, "y", ticks_wells, 366),
    yaxis=ycfg(13, 346, "x", [8, -1], 1, 0, ".1f"),
    xaxis2=xcfg(200, 1167, "y2", ticks_wells, 366),
    yaxis2=ycfg(447, 826, "x2", [8, -1], 1, 0, ".1f"),
    xaxis3=xcfg(201, 1169, "y3", ticks_wells, 366),
    yaxis3=ycfg(928, 1304, "x3", [22, -1], 2, -1, ".1f", zero=True),
    xaxis4=xcfg(204, 1169, "y4", ticks_obs, 8732 / 24, grid=False),
    yaxis4=ycfg(1396, 1772, "x4", [0, 200], 20, 0, "d"),
    yaxis5=dict(overlaying="y4", anchor="x4", side="left", automargin=False, range=[10, 0],
                tickmode="linear", dtick=1, tick0=0, tickformat="d",
                tickfont=dict(family=TF, size=14, color=TICKC),
                ticks="outside", ticklen=14, tickcolor="rgba(0,0,0,0)", showgrid=False, zeroline=False),
)
layout["yaxis4"]["side"] = "right"
layout["yaxis4"]["ticklen"] = 16
layout["xaxis4"]["minor"] = dict(tickmode="linear", tick0=day_str(0), dtick=236 * 3600 * 1000,
                                 showgrid=True, gridcolor=GRID, gridwidth=1, ticks="")
fig.update_layout(**layout)

# ---------------- annotations ----------------
ann = []
for title, yc in zip(panel_titles, [24, 455, 936, 1416]):
    ann.append(dict(text=title, x=px(10), y=py(yc), xref="paper", yref="paper", xanchor="left",
                    yanchor="middle", showarrow=False, font=dict(family=JP, size=23, color="#222")))


def vtitle(main, unit, xc, split, n_main, unit_len):
    # text reads bottom-to-top: bold main part below, unit part above; split = pixel y between them
    main_len = 14 * n_main
    ann.append(dict(text="<b>" + main + "</b>", x=px(xc), y=py(split + main_len / 2 + 1), xref="paper",
                    yref="paper", textangle=-90, showarrow=False, xanchor="center", yanchor="middle",
                    font=dict(family=JP, size=14, color=TICKC)))
    ann.append(dict(text=unit, x=px(xc + 1), y=py(split - unit_len / 2), xref="paper", yref="paper",
                    textangle=-90, showarrow=False, xanchor="center", yanchor="middle",
                    font=dict(family=JP, size=11.5, color=TICKC)))


for xc, split in [(141, 233), (142, 688), (137, 1165), (150, 1658)]:
    vtitle("水位", "（GL-m）", xc, split, 2, 48)
vtitle("降水量", "（㎜/日）", 1228, 1651, 3, 56)

shapes = []
callouts = [
    # box (x0,y0,x1,y1), text, ellipse (x0,y0,x1,y1), arrow tail, arrow head
    ((902, 143, 1129, 170), callout_text, (1154, 31, 1187, 93), (1108, 143), (1159, 85)),
    ((863, 633, 1088, 661), callout_text, (1147, 469, 1180, 536), (1059, 633), (1153, 533)),
    ((885, 1081, 1093, 1124), "水位計のキャリブレーション<br>実施", (1151, 942, 1183, 993), (1093, 1102),
     (1156, 987)),
]
for (bx0, by0, bx1, by1), txt, (ex0, ey0, ex1, ey1), (tx, ty), (hx, hy) in callouts:
    shapes.append(dict(type="rect", xref="paper", yref="paper", x0=px(bx0), x1=px(bx1), y0=py(by1), y1=py(by0),
                       line=dict(color="#555", width=1), fillcolor="white", layer="above"))
    shapes.append(dict(type="circle", xref="paper", yref="paper", x0=px(ex0), x1=px(ex1), y0=py(ey1), y1=py(ey0),
                       line=dict(color="#444", width=1.3), layer="above"))
    ann.append(dict(text=txt, x=px(bx0 + 9), y=py((by0 + by1) / 2), xref="paper", yref="paper",
                    xanchor="left", yanchor="middle", align="left", showarrow=False,
                    font=dict(family=JP, size=13.5, color="#1a1a1a")))
    ann.append(dict(text="", x=px(hx), y=py(hy), xref="paper", yref="paper", ax=tx - hx, ay=ty - hy,
                    showarrow=True, arrowhead=2, arrowsize=1.2, arrowwidth=0.8, arrowcolor="#444"))

ann.append(dict(text=caption, x=px(656), y=py(1826), xref="paper", yref="paper", xanchor="center",
                yanchor="top", showarrow=False, font=dict(family=JP, size=24, color="#111")))

fig.update_layout(annotations=ann, shapes=shapes)
fig.write_html("out.html")
